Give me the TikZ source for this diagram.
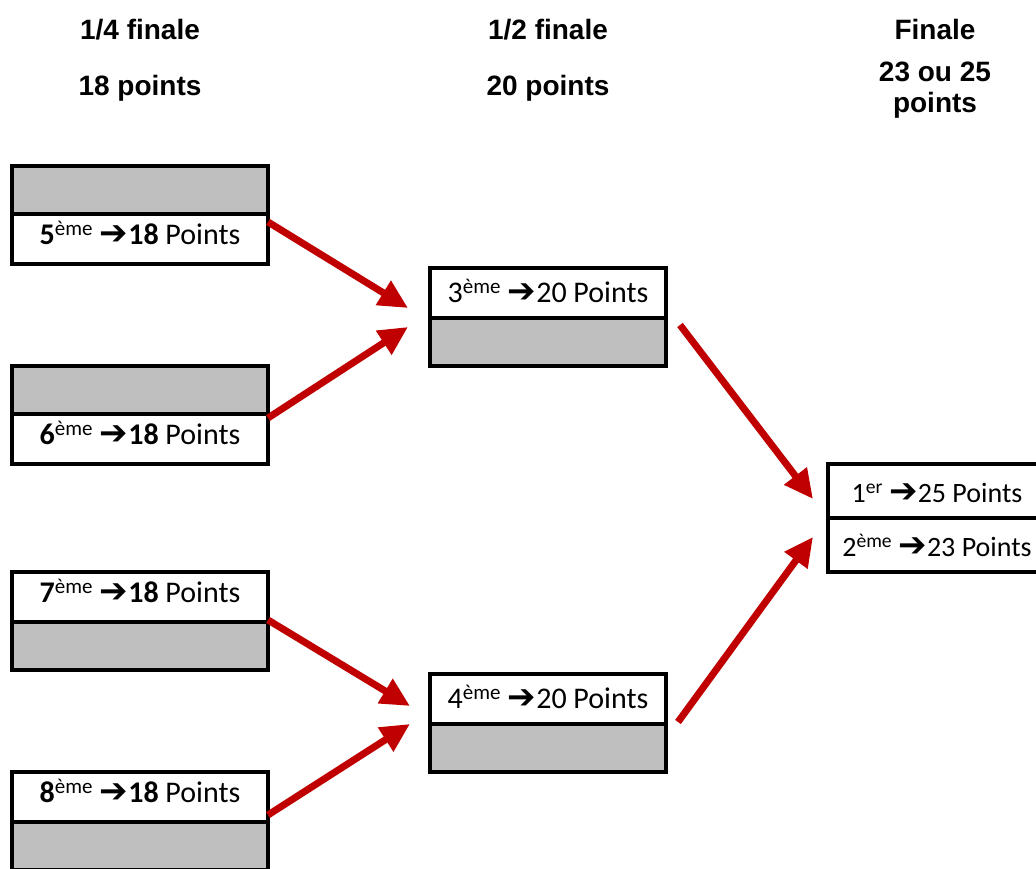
\documentclass[tikz,border=0pt]{standalone}
\usepackage{fontspec}
\setmainfont{Carlito}
\newfontfamily\titrefont{Liberation Sans}
\newfontfamily\flechefont{DejaVu Sans}
\usetikzlibrary{arrows.meta, positioning}
\definecolor{rougefleche}{HTML}{C00000}
\definecolor{grisclair}{HTML}{BFBFBF}
\newcommand{\rangpts}[3]{#1\textsuperscript{#2} {\flechefont\bfseries\fontsize{34}{34}\selectfont ➔}#3 Points}

\begin{document}
\begin{tikzpicture}[x=1pt, y=1pt,
  cellule/.style={rectangle, draw=black, line width=4pt, fill=white, outer sep=0pt, inner sep=0pt, minimum width=256pt, minimum height=50pt, text height=20pt, text depth=8pt, font=\fontsize{30}{36}\selectfont},
  vide/.style={cellule, fill=grisclair, minimum height=48pt},
  demi/.style={minimum width=236pt, text height=22pt, text depth=2pt},
  fin/.style={minimum width=218pt, minimum height=54pt, text height=24pt, text depth=0pt, font=\fontsize{28}{34}\selectfont},
  titre/.style={font=\titrefont\bfseries\fontsize{28}{31}\selectfont, align=center},
  fleche/.style={draw=rougefleche, line width=7pt, -{Triangle[length=29pt, width=27pt]}}
]
  \useasboundingbox (0,0) rectangle (1036,869);
  \node[titre] (tquart) at (140,839) {1/4 finale};
  \node[titre] (pquart) at (140,781) {18 points};
  \node[titre] (tdemi) at (548,839) {1/2 finale};
  \node[titre] (pdemi) at (548,781) {20 points};
  \node[titre] (tfin) at (935,839) {Finale};
  \node[titre] (pfin) at (935,779) {23 ou 25\\points};

  \node[cellule] (q5) at (140,630) {\rangpts{\textbf{5}}{ème}{\textbf{18}}};
  \node[vide, above=0pt of q5] (q5g) {};
  \node[cellule] (q6) at (140,430) {\rangpts{\textbf{6}}{ème}{\textbf{18}}};
  \node[vide, above=0pt of q6] (q6g) {};
  \node[cellule] (q7) at (140,272) {\rangpts{\textbf{7}}{ème}{\textbf{18}}};
  \node[vide, below=0pt of q7] (q7g) {};
  \node[cellule] (q8) at (140,72) {\rangpts{\textbf{8}}{ème}{\textbf{18}}};
  \node[vide, below=0pt of q8] (q8g) {};

  \node[cellule, demi] (d3) at (548,576) {\rangpts{3}{ème}{20}};
  \node[vide, demi, below=0pt of d3] (d3g) {};
  \node[cellule, demi] (d4) at (548,170) {\rangpts{4}{ème}{20}};
  \node[vide, demi, below=0pt of d4] (d4g) {};

  \node[cellule, fin] (f1) at (937,378) {\rangpts{1}{er}{25}};
  \node[cellule, fin, below=0pt of f1] (f2) {\rangpts{2}{ème}{23}};

  \draw[fleche] ([yshift=-8pt]q5.north east) -- ([shift={(-22pt,10pt)}]d3.south west);
  \draw[fleche] ([yshift=-4pt]q6.north east) -- ([shift={(-22pt,-9pt)}]d3.south west);
  \draw[fleche] ([yshift=2pt]q7.south east) -- ([shift={(-20pt,18pt)}]d4.south west);
  \draw[fleche] ([yshift=7pt]q8.south east) -- ([shift={(-20pt,0pt)}]d4.south west);
  \draw[fleche] ([shift={(14pt,-7pt)}]d3.south east) -- ([shift={(-15pt,19pt)}]f1.south west);
  \draw[fleche] ([shift={(12pt,2pt)}]d4.south east) -- ([shift={(-15pt,-19pt)}]f1.south west);
\end{tikzpicture}
\end{document}
